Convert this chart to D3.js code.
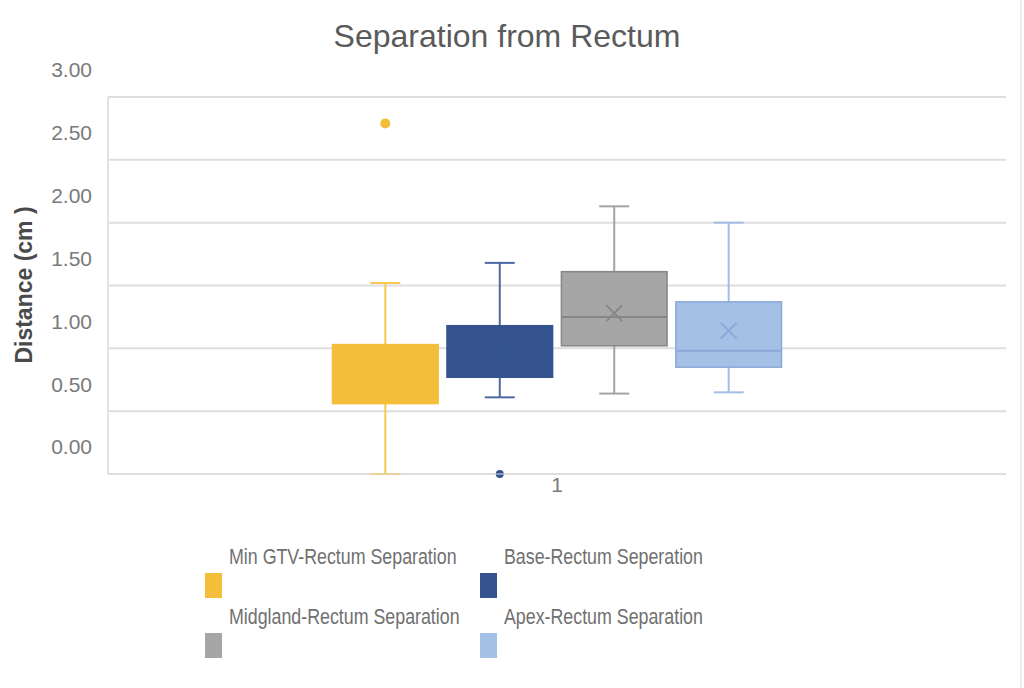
<!DOCTYPE html>
<meta charset="utf-8">
<head>
<script src="https://d3js.org/d3.v7.min.js"></script>
<style>
  html, body { margin: 0; padding: 0; background: #fff; }
  svg text { font-family: 'Liberation Sans', Arial, sans-serif; }
</style>
</head>
<body>
<div id="my_dataviz"></div>
<script>

// data
var seriesNames = ["Min GTV-Rectum Separation", "Base-Rectum Seperation", "Midgland-Rectum Separation", "Apex-Rectum Separation"];
var categories = ["1"];
var whiskerLow  = [0.00, 0.61, 0.64, 0.65];
var q1          = [0.56, 0.77, 1.02, 0.85];
var median      = [0.80, 0.98, 1.25, 0.98];
var q3          = [1.03, 1.18, 1.61, 1.37];
var whiskerHigh = [1.52, 1.68, 2.13, 2.00];
var means       = [0.86, 0.98, 1.28, 1.14];
var outliers    = [[2.79], [0.00], [], []];
var yTicks      = [0, 0.5, 1, 1.5, 2, 2.5, 3];

var fillColor    = ["#F3BF3B", "#34538F", "#A6A6A6", "#A4C0E4"];
var whiskerColor = ["#F5C850", "#4D69A4", "#A3A3A3", "#A3BDE4"];
var markColor    = ["#F3BF3B", "#34538F", "#868686", "#8AA9D8"];

var width = 1024, height = 688;
var plot = {left: 108, right: 1006, top: 97, bottom: 474};

var svg = d3.select("#my_dataviz")
  .append("svg")
    .attr("width", width)
    .attr("height", height);

var x = d3.scaleBand()
  .domain(categories)
  .range([plot.left, plot.right])
  .paddingInner(0)
  .paddingOuter(0.5);

var xs = d3.scaleBand()
  .domain(seriesNames)
  .range([0, x.bandwidth()])
  .paddingInner(0.077)
  .paddingOuter(0);

var y = d3.scaleLinear()
  .domain([0, 3])
  .range([plot.bottom, plot.top]);

// faint frame edge on the right of the picture
svg.append("line")
  .attr("x1", 1021).attr("x2", 1021)
  .attr("y1", 0).attr("y2", height)
  .style("stroke", "#EDEDED")
  .style("stroke-width", 2);

// title
svg.append("text")
  .attr("x", 507)
  .attr("y", 47)
  .attr("text-anchor", "middle")
  .style("font-size", "32px")
  .style("fill", "#5a5a5a")
  .text("Separation from Rectum");

// gridlines
svg.append("g")
  .selectAll("line")
  .data(yTicks)
  .enter()
  .append("line")
    .attr("x1", plot.left)
    .attr("x2", plot.right)
    .attr("y1", function(d) { return y(d); })
    .attr("y2", function(d) { return y(d); })
    .style("stroke", "#DEDEDE")
    .style("stroke-width", 2);

svg.append("line")
  .attr("x1", plot.left).attr("x2", plot.left)
  .attr("y1", y(3)).attr("y2", y(0))
  .style("stroke", "#E2E2E2")
  .style("stroke-width", 2);

// y tick labels (they sit above their gridlines in the picture)
svg.append("g")
  .selectAll("text")
  .data(yTicks)
  .enter()
  .append("text")
    .attr("x", 92)
    .attr("y", function(d) { return y(d) - 27; })
    .attr("dy", "0.35em")
    .attr("text-anchor", "end")
    .style("font-size", "21px")
    .style("fill", "#7a7a7a")
    .text(function(d) { return d3.format(".2f")(d); });

// y axis title
svg.append("text")
  .attr("transform", "translate(32,285) rotate(-90)")
  .attr("text-anchor", "middle")
  .style("font-size", "23px")
  .style("font-weight", "bold")
  .style("fill", "#4a4a4a")
  .text("Distance (cm )");

// category label
svg.append("text")
  .attr("x", x("1") + x.bandwidth() / 2)
  .attr("y", 485)
  .attr("dy", "0.35em")
  .attr("text-anchor", "middle")
  .style("font-size", "21px")
  .style("fill", "#7a7a7a")
  .text("1");

// boxes
var boxes = svg.append("g")
  .selectAll("g")
  .data(seriesNames)
  .enter()
  .append("g")
    .attr("transform", function(d) { return "translate(" + (x("1") + xs(d)) + ",0)"; });

var bw = xs.bandwidth();
var cap = 30;

boxes.each(function(d, i) {
  var g = d3.select(this);
  var cx = bw / 2;

  // whiskers
  g.append("line")
    .attr("x1", cx).attr("x2", cx)
    .attr("y1", y(whiskerHigh[i])).attr("y2", y(whiskerLow[i]))
    .style("stroke", whiskerColor[i]).style("stroke-width", 2);
  g.append("line")
    .attr("x1", cx - cap / 2).attr("x2", cx + cap / 2)
    .attr("y1", y(whiskerHigh[i])).attr("y2", y(whiskerHigh[i]))
    .style("stroke", whiskerColor[i]).style("stroke-width", 2);
  g.append("line")
    .attr("x1", cx - cap / 2).attr("x2", cx + cap / 2)
    .attr("y1", y(whiskerLow[i])).attr("y2", y(whiskerLow[i]))
    .style("stroke", whiskerColor[i]).style("stroke-width", 2);

  // box
  g.append("rect")
    .attr("x", 0)
    .attr("width", bw)
    .attr("y", y(q3[i]))
    .attr("height", y(q1[i]) - y(q3[i]))
    .style("fill", fillColor[i])
    .style("stroke", markColor[i])
    .style("stroke-width", 1.5);

  // median
  g.append("line")
    .attr("x1", 0).attr("x2", bw)
    .attr("y1", y(median[i])).attr("y2", y(median[i]))
    .style("stroke", markColor[i]).style("stroke-width", 2);

  // mean marker
  var m = 8;
  g.append("path")
    .attr("d", "M" + (cx - m) + "," + (y(means[i]) - m) + "L" + (cx + m) + "," + (y(means[i]) + m) +
               "M" + (cx + m) + "," + (y(means[i]) - m) + "L" + (cx - m) + "," + (y(means[i]) + m))
    .style("stroke", markColor[i]).style("stroke-width", 2);

  // outliers
  g.selectAll("circle")
    .data(outliers[i])
    .enter()
    .append("circle")
      .attr("cx", cx)
      .attr("cy", function(v) { return y(v); })
      .attr("r", function(v) { return i == 0 ? 5 : 4; })
      .style("fill", fillColor[i]);
});

// redraw the base line over the clipped outlier
svg.append("line")
  .attr("x1", plot.left).attr("x2", plot.right)
  .attr("y1", y(0)).attr("y2", y(0))
  .style("stroke", "#DEDEDE")
  .style("stroke-width", 1);

// legend
var legPos = [[205, 573], [480, 573], [205, 633], [480, 633]];
var legend = svg.append("g")
  .selectAll("g")
  .data(seriesNames)
  .enter()
  .append("g")
    .attr("transform", function(d, i) { return "translate(" + legPos[i][0] + "," + legPos[i][1] + ")"; });

legend.append("rect")
  .attr("width", 17)
  .attr("height", 25)
  .style("fill", function(d, i) { return fillColor[i]; });

// the picture uses a narrow face: squeeze the text horizontally
legend.append("g")
  .attr("transform", "translate(24,-9) scale(0.81,1)")
  .append("text")
    .style("font-size", "22px")
    .style("fill", "#707070")
    .text(function(d) { return d; });

</script>
</body>
